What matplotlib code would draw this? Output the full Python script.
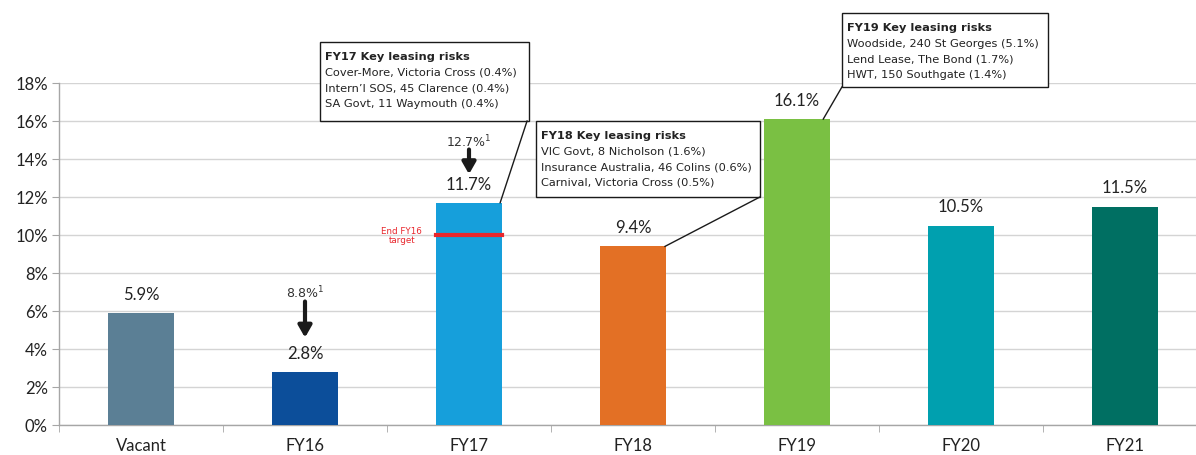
import matplotlib
matplotlib.use("Agg")
import matplotlib.pyplot as plt
from matplotlib.patches import Rectangle
from matplotlib.ticker import FuncFormatter, FixedLocator
import numpy as np

# ---- data ----
categories = ["Vacant", "FY16", "FY17", "FY18", "FY19", "FY20", "FY21"]
values = [5.9, 2.8, 11.7, 9.4, 16.1, 10.5, 11.5]
bar_colors = ["#5B7F95", "#0C4E9A", "#169FDB", "#E37025", "#7AC043", "#00A0AF", "#006F62"]
target_fy16 = 10.0
prior_fy16 = 8.8
prior_fy17 = 12.7
y_ticks = [0, 2, 4, 6, 8, 10, 12, 14, 16, 18]

box_fy17 = ["FY17 Key leasing risks",
            "Cover-More, Victoria Cross (0.4%)",
            "Intern\u2019l SOS, 45 Clarence (0.4%)",
            "SA Govt, 11 Waymouth (0.4%)"]
box_fy18 = ["FY18 Key leasing risks",
            "VIC Govt, 8 Nicholson (1.6%)",
            "Insurance Australia, 46 Colins (0.6%)",
            "Carnival, Victoria Cross (0.5%)"]
box_fy19 = ["FY19 Key leasing risks",
            "Woodside, 240 St Georges (5.1%)",
            "Lend Lease, The Bond (1.7%)",
            "HWT, 150 Southgate (1.4%)"]

# ---- figure ----
W, H = 1196, 456
fig = plt.figure(figsize=(W / 100, H / 100), dpi=100)
# axes: x from 59px to 1207px (clipped at right), y from 0% at 426px to 18% at 84px
ax = fig.add_axes([59 / W, (H - 426) / H, (1207 - 59) / W, (426 - 84) / H])

x = np.arange(len(categories))
ax.bar(x, values, width=0.4, color=bar_colors, zorder=3)

ax.set_xlim(-0.5, len(categories) - 0.5)
ax.set_ylim(0, 18)

lbl_font = "Lato"
ax.yaxis.set_major_locator(FixedLocator(y_ticks))
ax.yaxis.set_major_formatter(FuncFormatter(lambda v, p: f"{v:.0f}%"))
ax.grid(axis="y", color="#D4D4D4", linewidth=1.0, zorder=0)
ax.set_xticks(x)
ax.set_xticklabels(categories)
ax.set_xticks(np.arange(-0.5, len(categories), 1), minor=True)
ax.tick_params(axis="x", which="major", length=0, pad=9, labelsize=12)
ax.tick_params(axis="x", which="minor", length=5, color="#A6A6A6", direction="out")
ax.tick_params(axis="y", length=5, color="#A6A6A6", labelsize=12, pad=3)
for lab in ax.get_xticklabels() + ax.get_yticklabels():
    lab.set_fontfamily(lbl_font)
    lab.set_color("#222222")
for s in ["top", "right"]:
    ax.spines[s].set_visible(False)
for s in ["left", "bottom"]:
    ax.spines[s].set_color("#A6A6A6")
    ax.spines[s].set_linewidth(1.0)

# value labels
for xi, v in zip(x, values):
    ax.annotate(f"{v}%", (xi, v), xytext=(0, 8), textcoords="offset points",
                ha="center", va="bottom", fontsize=12, fontfamily=lbl_font,
                color="#222222", zorder=5)

# FY16 target line on FY17 bar
i17 = categories.index("FY17")
ax.plot([i17 - 0.2, i17 + 0.2], [target_fy16, target_fy16], color="#E8262C", lw=3, zorder=4)
ax.text(i17 - 0.41, target_fy16, "End FY16\ntarget", color="#E8262C", fontsize=6.3,
        ha="center", va="center", fontfamily="DejaVu Sans", linespacing=1.1)

# prior values with arrows
arrow_kw = dict(arrowstyle="-|>,head_width=0.4,head_length=0.7", color="#1A1A1A", lw=3,
                shrinkA=0, shrinkB=0)
i16 = categories.index("FY16")
ax.text(i16, prior_fy16 - 1.8, f"{prior_fy16}%$^1$", ha="center", va="center",
        fontsize=9, fontfamily="DejaVu Sans", color="#333333")
ax.annotate("", xy=(i16, 4.6), xytext=(i16, 6.5), arrowprops=arrow_kw)
ax.text(i17, prior_fy17 + 2.25, f"{prior_fy17}%$^1$", ha="center", va="center",
        fontsize=9, fontfamily="DejaVu Sans", color="#333333")
ax.annotate("", xy=(i17, 13.2), xytext=(i17, 14.5), arrowprops=arrow_kw)


def risk_box(lines, x0, x1, y0, y1):
    r = Rectangle((x0, y0), x1 - x0, y1 - y0, facecolor="white", edgecolor="#1A1A1A",
                  lw=1.0, clip_on=False, zorder=6)
    ax.add_patch(r)
    tx = x0 + 0.03
    step = 0.83
    ty = y1 - 0.72
    for k, line in enumerate(lines):
        ax.text(tx, ty - k * step, line, fontsize=8.2, fontfamily="DejaVu Sans",
                fontweight="bold" if k == 0 else "normal", color="#222222",
                ha="left", va="center", clip_on=False, zorder=7)
    return r


# FY17 box
risk_box(box_fy17, 1.09, 2.366, 16.0, 20.16)
ax.plot([2.354, 2.19], [16.0, 11.7], color="#1A1A1A", lw=1.0, clip_on=False, zorder=6)
# FY18 box
risk_box(box_fy18, 2.409, 3.774, 12.0, 16.0)
ax.plot([3.774, 3.195], [12.0, 9.4], color="#1A1A1A", lw=1.0, clip_on=False, zorder=6)
# FY19 box
risk_box(box_fy19, 4.274, 5.53, 17.79, 21.68)
ax.plot([4.274, 4.16], [17.79, 16.1], color="#1A1A1A", lw=1.0, clip_on=False, zorder=6)

fig.savefig("out.png", dpi=100)
